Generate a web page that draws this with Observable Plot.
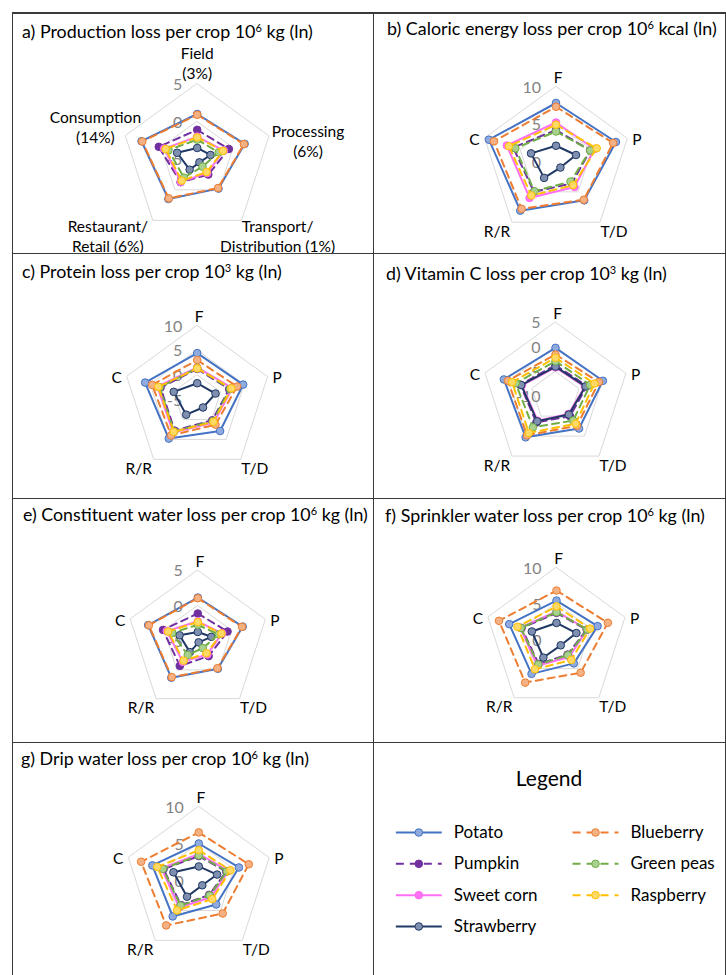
<!DOCTYPE html>
<html><head><meta charset="utf-8">
<script src="https://cdn.jsdelivr.net/npm/d3@7"></script>
<script src="https://cdn.jsdelivr.net/npm/@observablehq/plot@0.6"></script>
<style>
body{margin:0;background:#fff;font-family:Lato,"Noto Sans",sans-serif;}
#page{position:relative;width:726px;height:975px;overflow:hidden;background:#fff;}
.cell{position:absolute;}
.cell svg{position:absolute;left:0;top:0;}
.title{position:absolute;white-space:nowrap;color:#000;font-size:18px;line-height:20px;z-index:2;}
.title sup{font-size:0.62em;vertical-align:0;position:relative;top:-0.55em;}
.bline{position:absolute;background:#3a3a3a;}
.legtitle{position:absolute;left:0;width:100%;text-align:center;font-size:21px;color:#000;}
</style></head><body><div id="page"></div>
<script>
// ---------- data ----------
const stages = ["F", "P", "T/D", "R/R", "C"];
const stageLabelsLong = ["Field\n(3%)", "Processing\n(6%)", "Transport/\nDistribution (1%)", "Restaurant/\nRetail (6%)", "Consumption\n(14%)"];
const crops = ["Potato", "Pumpkin", "Sweet corn", "Strawberry", "Blueberry", "Green peas", "Raspberry"];

// rows follow `crops`, columns follow `stages` (natural log values)
const productionLoss = [
  [1.0, 1.6, -0.2, 1.5, 2.75],
  [-1.1, -0.6, -2.5, -1.25, 0.35],
  [-2.0, -1.3, -2.75, -1.3, -0.4],
  [-3.5, -3.15, -4.5, -3.3, -2.2],
  [0.9, 1.5, -0.3, 1.4, 2.65],
  [-2.4, -2.0, -3.8, -2.0, -1.0],
  [-2.1, -1.4, -2.9, -1.5, -0.6]
];
const productionTicks = [-5, 0, 5];

const caloricLoss = [
  [7.8, 8.4, 6.4, 8.1, 9.4],
  [4.2, 4.8, 3.6, 5.0, 6.0],
  [5.2, 5.4, 4.2, 6.0, 6.9],
  [2.1, 2.8, 1.0, 2.7, 3.5],
  [7.3, 8.0, 6.3, 7.8, 8.7],
  [4.0, 4.8, 3.3, 4.9, 5.7],
  [4.9, 5.7, 3.9, 5.6, 6.6]
];
const caloricTicks = [0, 5, 10];

const proteinLoss = [
  [4.4, 4.8, 2.9, 4.8, 6.1],
  [1.2, 1.8, 0.2, 2.8, 2.8],
  [1.5, 2.5, 0.75, 3.3, 3.5],
  [-1.7, -1.1, -3.0, -1.2, 0.0],
  [3.0, 3.5, 1.3, 4.0, 4.6],
  [1.4, 2.0, 0.4, 3.0, 3.0],
  [1.3, 2.3, 0.6, 3.1, 3.3]
];
const proteinTicks = [-5, 0, 5, 10];

const vitaminCLoss = [
  [-0.2, 0.1, -1.9, 0.3, 1.0],
  [-3.7, -3.3, -5.0, -3.4, -2.5],
  [-4.15, -3.75, -5.55, -3.85, -2.85],
  [-4.0, -3.6, -5.4, -3.7, -2.7],
  [-1.55, -0.75, -2.6, -0.2, 0.15],
  [-2.9, -2.6, -3.9, -2.2, -1.5],
  [-2.2, -1.7, -3.1, -0.8, -0.75]
];
const vitaminCTicks = [-10, -5, 0, 5];

const constituentWaterLoss = [
  [1.15, 1.65, -0.2, 1.35, 2.35],
  [-1.1, -0.6, -2.4, -0.7, 0.15],
  [-2.2, -1.4, -2.7, -1.4, -0.4],
  [-3.7, -3.0, -4.8, -3.1, -2.3],
  [1.05, 1.55, -0.3, 1.25, 2.25],
  [-2.7, -1.9, -3.8, -2.6, -1.2],
  [-2.3, -1.5, -2.9, -1.6, -0.6]
];
const constituentWaterTicks = [-5, 0, 5];

const sprinklerWaterLoss = [
  [5.4, 6.0, 4.1, 5.9, 6.9],
  [3.7, 4.4, 2.6, 4.2, 5.1],
  [3.9, 4.5, 3.0, 4.5, 5.3],
  [2.3, 2.9, 1.0, 3.1, 3.6],
  [6.8, 7.5, 5.7, 7.4, 8.4],
  [3.8, 4.5, 2.7, 4.3, 5.2],
  [4.6, 4.9, 3.5, 5.1, 5.7]
];
const sprinklerWaterTicks = [0, 5, 10];

const dripWaterLoss = [
  [5.0, 5.7, 4.0, 6.0, 6.6],
  [3.3, 3.9, 2.4, 4.1, 5.0],
  [3.6, 4.2, 2.8, 4.5, 5.3],
  [1.9, 2.6, 0.8, 2.7, 3.6],
  [6.5, 7.1, 5.5, 7.5, 8.2],
  [3.4, 4.0, 2.5, 4.2, 5.1],
  [4.1, 4.5, 3.1, 5.0, 5.9]
];
const dripWaterTicks = [0, 5, 10];

const titles = [
  "a) Production loss per crop 10<sup>6</sup> kg (ln)",
  "b) Caloric energy loss per crop 10<sup>6</sup> kcal (ln)",
  "c) Protein loss per crop 10<sup>3</sup> kg (ln)",
  "d) Vitamin C loss per crop 10<sup>3</sup> kg (ln)",
  "e) Constituent water loss per crop 10<sup>6</sup> kg (ln)",
  "f) Sprinkler water loss per crop 10<sup>6</sup> kg (ln)",
  "g) Drip water loss per crop 10<sup>6</sup> kg (ln)"
];

// ---------- styles / layout ----------
const cropStyle = {
  "Potato":     {stroke: "#4472C4", fill: "#8FAADC", dash: null},
  "Pumpkin":    {stroke: "#7030A0", fill: "#7030A0", dash: "7,5"},
  "Sweet corn": {stroke: "#FF6FF5", fill: "#FF6FF5", dash: null},
  "Strawberry": {stroke: "#203864", fill: "#7F8FB0", dash: null},
  "Blueberry":  {stroke: "#ED7D31", fill: "#F4B183", dash: "7,5"},
  "Green peas": {stroke: "#70AD47", fill: "#A9D18E", dash: "7,5"},
  "Raspberry":  {stroke: "#FFC000", fill: "#FFD966", dash: "7,5"}
};

// t: title left/top offsets and target width in px
const panels = [
  {values: productionLoss, ticks: productionTicks, labels: stageLabelsLong, cell: [12, 12, 361, 241], c: [184.7, 146.8], R: 75.5, t: [10, 9, 291]},
  {values: caloricLoss, ticks: caloricTicks, labels: stages, cell: [373, 12, 352, 241], c: [182.5, 149], R: 75, t: [14, 6, 330]},
  {values: proteinLoss, ticks: proteinTicks, labels: stages, cell: [12, 253, 361, 245], c: [184.7, 146], R: 74, t: [10, 8, 260]},
  {values: vitaminCLoss, ticks: vitaminCTicks, labels: stages, cell: [373, 253, 352, 245], c: [182, 142.7], R: 74, t: [13, 10, 281]},
  {values: constituentWaterLoss, ticks: constituentWaterTicks, labels: stages, cell: [12, 498, 361, 244], c: [185.3, 142.7], R: 71, t: [11, 6, 345]},
  {values: sprinklerWaterLoss, ticks: sprinklerWaterTicks, labels: stages, cell: [373, 498, 352, 244], c: [183, 141], R: 72, t: [12, 7, 320]},
  {values: dripWaterLoss, ticks: dripWaterTicks, labels: stages, cell: [12, 742, 361, 233], c: [186.3, 138], R: 74, t: [9, 6, 288]}
];

const shortOffsets = [
  {dx: 2, dy: -10, anchor: "middle"},
  {dx: 5, dy: 0, anchor: "start"},
  {dx: 14, dy: 8, anchor: "middle"},
  {dx: -15, dy: 8, anchor: "middle"},
  {dx: -5, dy: 0, anchor: "end"}
];
const longOffsets = [
  {dx: 0, dy: -21, anchor: "middle"},
  {dx: 39, dy: 5, anchor: "middle"},
  {dx: 36, dy: 15, anchor: "middle"},
  {dx: -45, dy: 15, anchor: "middle"},
  {dx: -30, dy: -9, anchor: "middle"}
];

const page = document.getElementById("page");
const FONT = "Lato, 'Noto Sans', sans-serif";
const angle = j => j * 2 * Math.PI / stages.length;

panels.forEach((p, k) => {
  const [cx0, cy0, w, h] = p.cell;
  const div = document.createElement("div");
  div.className = "cell";
  Object.assign(div.style, {left: cx0 + "px", top: cy0 + "px", width: w + "px", height: h + "px"});
  page.appendChild(div);

  const rmin = d3.min(p.ticks), rmax = d3.max(p.ticks);
  const r = d3.scaleLinear().domain([rmin, rmax]).range([0, 1]);
  const polar = (v, j) => ({x: r(v) * Math.sin(angle(j)), y: r(v) * Math.cos(angle(j))});

  const grid = p.ticks.filter(t => t !== rmin).flatMap(t => stages.map((s, j) => ({level: t, ...polar(t, j)})));
  const pts = crops.flatMap((crop, i) => p.values[i].map((v, j) => ({crop, stage: stages[j], value: v, ...polar(v, j)})));

  const marks = [
    Plot.line(grid, {x: "x", y: "y", z: "level", curve: "linear-closed", stroke: "#d9d9d9", strokeWidth: 1}),
    Plot.text(p.ticks, {x: () => 0, y: d => r(d), text: d => String(d), textAnchor: "end", dx: -15, dy: 1, fill: "#838383", fontSize: 16})
  ];
  const offs = p.labels === stageLabelsLong ? longOffsets : shortOffsets;
  p.labels.forEach((lab, j) => {
    const o = offs[j];
    marks.push(Plot.text([lab], {x: () => Math.sin(angle(j)), y: () => Math.cos(angle(j)), text: d => d,
      dx: o.dx, dy: o.dy, textAnchor: o.anchor, lineAnchor: "middle", lineHeight: 1.3, fill: "#000", fontSize: 15.5}));
  });
  crops.forEach(crop => {
    const s = cropStyle[crop];
    const data = pts.filter(d => d.crop === crop);
    marks.push(Plot.line(data, {x: "x", y: "y", curve: "linear-closed", stroke: s.stroke, strokeWidth: 2, strokeDasharray: s.dash || undefined}));
    marks.push(Plot.dot(data, {x: "x", y: "y", r: 3.8, fill: s.fill, stroke: s.stroke, strokeWidth: 1}));
  });

  const chart = Plot.plot({
    width: w, height: h, margin: 0,
    x: {domain: [-1, 1], range: [p.c[0] - p.R, p.c[0] + p.R], axis: null},
    y: {domain: [-1, 1], range: [p.c[1] + p.R, p.c[1] - p.R], axis: null},
    style: {fontFamily: FONT, background: "transparent", overflow: "visible"},
    marks
  });
  div.appendChild(chart);

  const t = document.createElement("div");
  t.className = "title";
  t.innerHTML = titles[k];
  Object.assign(t.style, {left: p.t[0] + "px", top: p.t[1] + "px"});
  div.appendChild(t);
  const measured = t.getBoundingClientRect().width;
  if (measured > 0) {
    const fs = Math.max(16, Math.min(19.5, 18 * p.t[2] / measured));
    t.style.fontSize = fs.toFixed(2) + "px";
  }
});

// ---------- legend ----------
{
  const [lx, ly, lw, lh] = [373, 742, 352, 233];
  const div = document.createElement("div");
  div.className = "cell";
  Object.assign(div.style, {left: lx + "px", top: ly + "px", width: lw + "px", height: lh + "px"});
  page.appendChild(div);
  const items = crops.map((crop, i) => ({crop, col: i < 4 ? 0 : 1, row: i < 4 ? i : i - 4}));
  const marks = [];
  items.forEach(it => {
    const s = cropStyle[it.crop];
    marks.push(Plot.link([it], {x1: d => d.col - 0.13, x2: d => d.col + 0.13, y1: "row", y2: "row", stroke: s.stroke, strokeWidth: 2, strokeDasharray: s.dash ? "8,6" : undefined}));
    marks.push(Plot.dot([it], {x: "col", y: "row", r: 3.8, fill: s.fill, stroke: s.stroke, strokeWidth: 1}));
  });
  marks.push(Plot.text(items, {x: "col", y: "row", text: "crop", dx: 35, textAnchor: "start", fontSize: 17, fill: "#000"}));
  const leg = Plot.plot({
    width: lw, height: lh, margin: 0,
    x: {domain: [0, 1], range: [45.3, 222], axis: null},
    y: {domain: [0, 3], range: [90, 184], axis: null},
    style: {fontFamily: FONT, background: "transparent"},
    marks
  });
  div.appendChild(leg);
  const lt = document.createElement("div");
  lt.className = "legtitle";
  lt.textContent = "Legend";
  lt.style.top = "23px";
  div.appendChild(lt);
}

// ---------- frame lines ----------
const lines = [
  [12, 12, 714, 1.5], [12, 252.5, 714, 1.5], [12, 497.5, 714, 1.5], [12, 741.5, 714, 1.5],
  [11.5, 12, 1.5, 963], [372.5, 12, 1.5, 963], [724.5, 12, 1.5, 963]
];
lines.forEach(([x, y, w, h]) => {
  const d = document.createElement("div");
  d.className = "bline";
  Object.assign(d.style, {left: x + "px", top: y + "px", width: w + "px", height: h + "px"});
  page.appendChild(d);
});
</script></body></html>
